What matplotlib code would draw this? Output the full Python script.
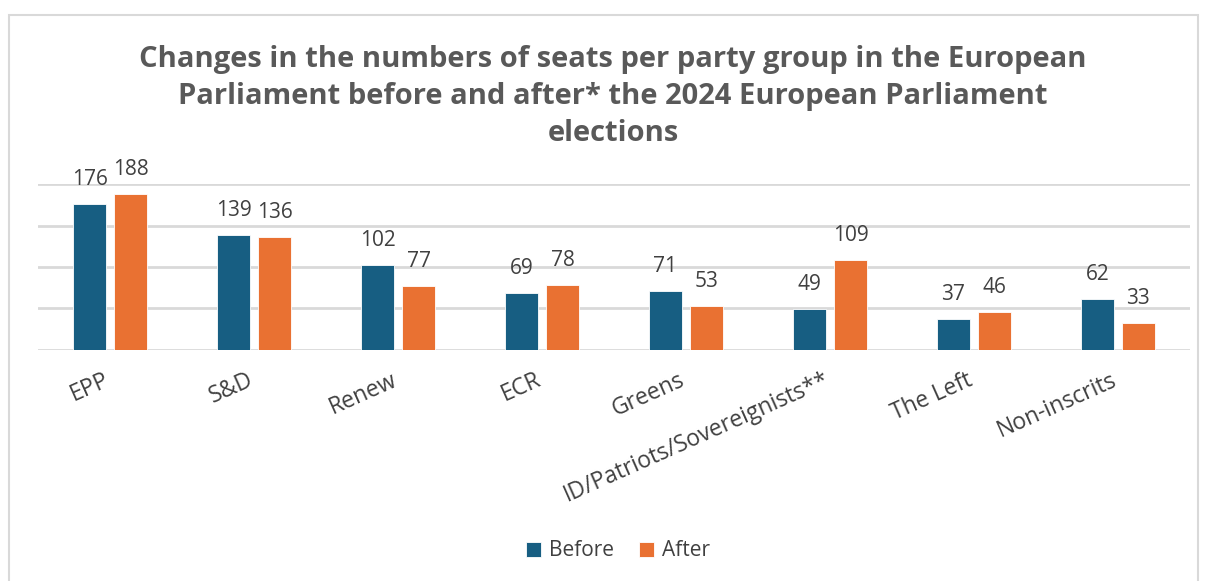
import matplotlib.pyplot as plt
import numpy as np
from matplotlib.patches import Rectangle
from matplotlib.transforms import ScaledTranslation

groups = ["EPP", "S&D", "Renew", "ECR", "Greens", "ID/Patriots/Sovereignists**", "The Left", "Non-inscrits"]
before = [176, 139, 102, 69, 71, 49, 37, 62]
after = [188, 136, 77, 78, 53, 109, 46, 33]

BLUE = "#175E82"
ORANGE = "#E97132"
GRID = "#D9D9D9"
TEXT = "#404040"

plt.rcParams["font.family"] = ["Open Sans", "DejaVu Sans"]

fig = plt.figure(figsize=(12.08, 5.81), dpi=100)
ax = fig.add_axes([0.0315, 0.3976, 0.9535, 0.2857])

# light frame round the chart, as in the original
fig.patches.append(Rectangle((9 / 1208, -0.05), 1189 / 1208, 1 - 15 / 581 + 0.05,
                             transform=fig.transFigure, fill=False,
                             edgecolor=GRID, linewidth=1.5))

x = np.arange(len(groups))
w = 0.23
off = 0.1425
b1 = ax.bar(x - off, before, w, color=BLUE, edgecolor="white", linewidth=0.6, label="Before", zorder=3)
b2 = ax.bar(x + off, after, w, color=ORANGE, edgecolor="white", linewidth=0.6, label="After", zorder=3)

for bars in (b1, b2):
    for r in bars:
        ax.annotate(f"{int(r.get_height())}", (r.get_x() + r.get_width() / 2, r.get_height()),
                    xytext=(0, 10), textcoords="offset points", ha="center", va="bottom",
                    fontsize=15, color=TEXT)

ax.set_xlim(-0.5, len(groups) - 0.5)
ax.set_ylim(0, 200)
ax.set_yticks([0, 50, 100, 150, 200])
ax.yaxis.grid(True, color=GRID, linewidth=2)
ax.tick_params(axis="y", left=False, labelleft=False)
ax.tick_params(axis="x", length=0, pad=13)
ax.set_xticks(x)
ax.set_xticklabels(groups, rotation=24, ha="right", va="top", rotation_mode="anchor",
                   fontsize=16.5, color=TEXT)
# nudge the slanted labels left so their ends sit under the category centre
shift = ScaledTranslation(-7 / 100, 0, fig.dpi_scale_trans)
for lab in ax.get_xticklabels():
    lab.set_transform(lab.get_transform() + shift)
for s in ax.spines.values():
    s.set_visible(False)

fig.text(613 / 1208, 1 - 45 / 581,
         "Changes in the numbers of seats per party group in the European\n"
         "Parliament before and after* the 2024 European Parliament\nelections",
         ha="center", va="top", fontsize=21, fontweight="bold", color="#595959", linespacing=1.36)

fig.legend(handles=[b1, b2], loc="center", bbox_to_anchor=(618 / 1208, 1 - 551 / 581), ncol=2,
           frameon=False, fontsize=15, handlelength=0.7, handleheight=0.7, handletextpad=0.4,
           columnspacing=1.2, labelcolor=TEXT)

fig.savefig("out.png", dpi=100)
